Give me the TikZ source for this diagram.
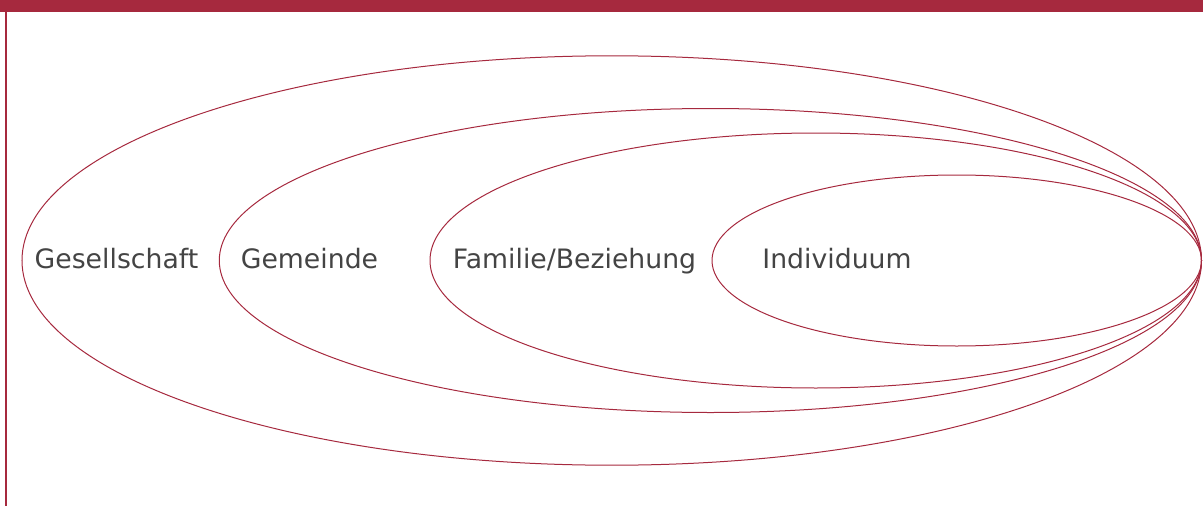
\documentclass[tikz,border=0pt]{standalone}
\usepackage{fontspec}
\setmainfont{DejaVu Sans}
\usetikzlibrary{shapes.geometric}
\definecolor{wine}{RGB}{166,41,62}
\definecolor{labelgray}{RGB}{68,68,68}
\tikzset{
  ring/.style={
    ellipse,
    draw=wine,
    line width=1pt,
    inner sep=0pt,
  },
  ring label/.style={
    text=labelgray,
    anchor=base,
    inner sep=0pt,
    font=\fontsize{26.7}{31}\selectfont,
  },
}

\begin{document}
\begin{tikzpicture}[x=1pt, y=-1pt]
        \useasboundingbox (0,0) rectangle (1203,506);

        \fill[wine] (0,0) rectangle (1203,12);
        \coordinate (frametop) at (6,12);
        \coordinate (framebot) at (6,506);
        \draw[wine, line width=2pt] (frametop) -- (framebot);

        \node[ring, minimum width=1179.5pt, minimum height=409.4pt] (society)    at (611.75,260.5) {};
        \node[ring, minimum width=982.2pt,  minimum height=304pt]   (community)  at (710.4,260.5)  {};
        \node[ring, minimum width=771.5pt,  minimum height=255pt]   (family)     at (815.75,260.5) {};
        \node[ring, minimum width=489.5pt,  minimum height=171pt]   (individual) at (956.75,260.5) {};

        \node[ring label] (society label)    at (116.5,268.5) {Gesellschaft};
        \node[ring label] (community label)  at (309.5,268.5) {Gemeinde};
        \node[ring label] (family label)     at (574.5,268.5) {Familie/Beziehung};
        \node[ring label] (individual label) at (837,268.5)   {Individuum};
      \end{tikzpicture}
\end{document}
